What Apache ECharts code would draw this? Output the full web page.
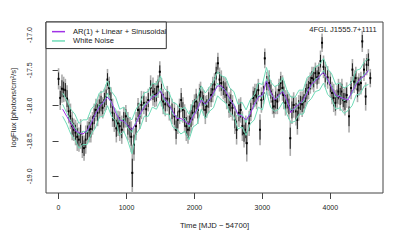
<!DOCTYPE html>
<html><head><meta charset="utf-8">
<script src="https://cdn.jsdelivr.net/npm/echarts@6/dist/echarts.min.js"></script>
<style>html,body{margin:0;padding:0;background:#fff}#c{width:407px;height:251px}</style>
</head><body><div id="c"></div>
<script>
// Observed light curve (days since MJD 54700, log flux)
const obsTime = [
0,25,50,75,100,125,150,175,200,225,
250,275,300,325,350,375,400,425,450,475,
500,525,550,575,600,625,650,675,700,720,
745,770,795,820,850,875,900,930,960,990,
1020,1050,1070,1085,1110,1140,1170,1195,1220,1255,
1290,1320,1355,1390,1415,1440,1465,1490,1515,1540,
1570,1600,1630,1670,1705,1730,1755,1780,1805,1830,
1855,1880,1905,1930,1950,1975,2000,2025,2050,2075,
2090,2115,2135,2160,2180,2210,2245,2270,2295,2320,
2345,2370,2395,2425,2450,2475,2510,2535,2560,2595,
2620,2655,2680,2705,2730,2755,2770,2805,2830,2865,
2890,2915,2940,2965,2985,3015,3035,3065,3100,3125,
3150,3170,3195,3220,3245,3270,3295,3315,3340,3365,
3390,3410,3435,3460,3495,3515,3535,3560,3585,3610,
3635,3655,3680,3705,3730,3755,3780,3805,3830,3855,
3878,3900,3925,3960,4000,4025,4050,4075,4100,4120,
4145,4170,4190,4215,4240,4275,4305,4325,4350,4375,
4400,4420,4450,4470,4495,4520,4535,4560,4588];
const obsFlux = [
-17.62,-17.89,-17.76,-17.77,-17.78,-17.90,-18.08,-18.15,-18.29,-18.34,
-18.38,-18.44,-18.48,-18.40,-18.55,-18.60,-18.48,-18.38,-18.34,-18.33,
-18.25,-18.15,-18.06,-18.10,-18.01,-17.97,-18.03,-17.92,-17.88,-17.63,
-17.75,-17.92,-18.10,-18.20,-18.32,-18.25,-18.29,-18.34,-18.20,-18.15,
-18.29,-18.34,-18.44,-18.95,-18.55,-18.29,-18.06,-18.15,-17.99,-17.96,
-18.05,-17.92,-17.75,-17.80,-17.85,-17.83,-17.73,-17.52,-17.81,-17.94,
-17.98,-17.90,-18.01,-18.08,-18.15,-18.34,-18.20,-18.08,-17.92,-18.06,
-18.18,-18.29,-18.34,-18.25,-18.18,-18.10,-18.01,-17.94,-18.06,-17.85,
-17.81,-17.90,-17.96,-18.06,-18.01,-17.92,-17.85,-17.77,-17.70,-17.54,
-17.40,-17.63,-17.68,-17.75,-17.78,-17.85,-17.99,-17.96,-18.03,-18.20,
-18.34,-18.10,-18.06,-18.29,-18.39,-18.34,-18.53,-18.25,-18.06,-17.89,
-17.85,-17.87,-17.78,-18.34,-17.92,-17.82,-17.33,-17.68,-17.68,-17.80,
-17.94,-18.01,-17.92,-17.94,-17.78,-17.68,-17.75,-17.85,-17.96,-17.94,
-18.01,-18.46,-18.06,-17.99,-18.08,-18.20,-18.03,-17.96,-17.98,-17.94,
-17.85,-17.80,-17.75,-17.68,-17.61,-17.63,-17.54,-17.60,-17.54,-17.37,
-17.11,-17.45,-17.56,-17.60,-17.70,-17.82,-17.89,-17.96,-17.87,-17.80,
-17.87,-17.80,-17.92,-17.94,-17.85,-18.15,-17.75,-17.49,-17.66,-17.61,
-17.77,-17.70,-17.68,-17.09,-17.49,-17.87,-17.42,-17.35,-17.61];
// statistical error (black bars), in 0.01 dex
const errStat = [
9,10,12,11,10,12,10,11,12,10,
11,12,10,13,12,11,12,10,11,12,
10,11,10,12,10,11,9,10,11,9,
10,11,12,10,12,11,13,12,11,10,
12,11,13,20,14,12,10,11,12,10,
11,10,11,12,10,11,10,9,12,11,
10,11,12,11,12,13,12,11,10,11,
12,13,12,11,12,11,10,11,12,10,
9,10,11,12,10,11,10,11,10,9,
9,10,11,10,11,12,11,12,11,12,
13,12,11,13,12,12,16,11,10,10,
10,11,10,14,11,10,9,10,11,10,
11,10,12,11,10,10,11,12,11,10,
11,15,12,11,12,13,11,10,11,10,
10,11,10,9,10,11,9,10,9,9,
8,10,11,10,11,10,12,11,10,11,
12,11,10,12,11,14,10,9,10,10,
11,10,10,9,10,12,9,9,8];
// total error (grey bars), in 0.01 dex
const errTot = [
15,17,20,18,16,19,17,18,20,16,
18,20,17,21,19,18,20,16,18,19,
16,18,16,19,17,18,15,16,18,15,
16,18,20,17,20,18,21,20,18,16,
20,18,22,40,23,20,17,18,20,16,
18,16,18,20,17,18,16,15,20,18,
17,18,20,18,20,21,20,18,17,18,
20,21,20,18,20,18,17,18,20,16,
15,16,18,20,16,18,17,18,16,15,
15,17,18,16,18,20,18,20,18,20,
21,20,18,21,20,20,26,18,16,16,
16,18,16,22,18,16,14,16,18,16,
18,16,20,18,16,16,18,20,18,16,
18,25,20,18,20,21,18,16,18,16,
16,18,16,15,16,18,15,16,15,15,
13,16,18,16,18,16,20,18,16,18,
20,18,16,20,18,23,16,15,16,16,
18,16,16,15,16,20,15,15,13];
// model curves
const modelTime = [
60,120,180,240,300,360,420,480,540,600,
660,720,780,840,900,960,1020,1080,1140,1200,
1260,1320,1380,1440,1500,1560,1620,1680,1740,1800,
1860,1920,1980,2040,2100,2160,2220,2280,2340,2400,
2460,2520,2580,2640,2700,2760,2820,2880,2940,3000,
3060,3120,3180,3240,3300,3360,3420,3480,3540,3600,
3660,3720,3780,3840,3900,3960,4020,4080,4140,4200,
4260,4320,4380,4440,4500,4560];
const arModel = [
-18.05,-18.15,-18.25,-18.35,-18.38,-18.40,-18.35,-18.25,-18.12,-18.02,
-17.95,-17.88,-17.95,-18.10,-18.20,-18.22,-18.28,-18.34,-18.25,-18.12,
-18.02,-17.95,-17.88,-17.85,-17.79,-17.90,-17.98,-18.08,-18.18,-18.18,
-18.22,-18.27,-18.15,-18.05,-17.92,-17.98,-17.92,-17.82,-17.72,-17.72,
-17.80,-17.90,-18.00,-18.12,-18.15,-18.20,-18.12,-17.98,-17.88,-17.85,
-17.65,-17.80,-17.92,-17.85,-17.80,-17.92,-18.10,-18.02,-17.98,-17.92,
-17.82,-17.70,-17.65,-17.58,-17.53,-17.62,-17.75,-17.85,-17.88,-17.90,
-17.92,-17.80,-17.70,-17.62,-17.58,-17.50];
const wnMid = [
-17.98,-18.10,-18.22,-18.30,-18.42,-18.36,-18.38,-18.22,-18.15,-17.98,
-17.97,-17.82,-17.98,-18.05,-18.24,-18.18,-18.32,-18.38,-18.22,-18.15,
-17.98,-17.97,-17.84,-17.88,-17.75,-17.94,-17.95,-18.12,-18.15,-18.22,
-18.18,-18.30,-18.12,-18.08,-17.88,-18.00,-17.90,-17.85,-17.68,-17.75,
-17.78,-17.93,-17.97,-18.15,-18.12,-18.24,-18.08,-18.02,-17.85,-17.88,
-17.62,-17.84,-17.90,-17.88,-17.77,-17.95,-18.06,-18.05,-17.95,-17.95,
-17.78,-17.73,-17.62,-17.60,-17.50,-17.66,-17.72,-17.88,-17.85,-17.93,
-17.89,-17.83,-17.67,-17.65,-17.55,-17.52];
const wnUpper = [
-17.82,-17.92,-18.05,-18.12,-18.25,-18.20,-18.20,-18.05,-17.98,-17.82,
-17.80,-17.65,-17.80,-17.88,-18.05,-18.02,-18.15,-18.20,-18.05,-17.96,
-17.82,-17.80,-17.68,-17.70,-17.58,-17.76,-17.80,-17.95,-17.98,-18.05,
-18.02,-18.12,-17.95,-17.90,-17.72,-17.82,-17.74,-17.66,-17.52,-17.58,
-17.60,-17.75,-17.80,-17.98,-17.95,-18.06,-17.92,-17.85,-17.68,-17.70,
-17.46,-17.66,-17.73,-17.70,-17.60,-17.78,-17.88,-17.88,-17.78,-17.78,
-17.60,-17.56,-17.45,-17.42,-17.33,-17.48,-17.55,-17.70,-17.68,-17.75,
-17.72,-17.66,-17.50,-17.48,-17.38,-17.33];
const wnLower = [
-18.15,-18.26,-18.40,-18.48,-18.60,-18.55,-18.55,-18.40,-18.32,-18.16,
-18.15,-18.00,-18.15,-18.22,-18.42,-18.36,-18.50,-18.68,-18.40,-18.32,
-18.15,-18.15,-18.02,-18.05,-17.93,-18.12,-18.12,-18.30,-18.33,-18.40,
-18.36,-18.48,-18.30,-18.26,-18.05,-18.18,-18.08,-18.03,-17.86,-17.92,
-17.96,-18.10,-18.15,-18.33,-18.30,-18.42,-18.26,-18.20,-18.02,-18.06,
-17.80,-18.02,-18.08,-18.05,-17.95,-18.12,-18.24,-18.22,-18.12,-18.12,
-17.96,-17.90,-17.80,-17.78,-17.68,-17.84,-17.90,-18.05,-18.03,-18.11,
-18.07,-18.00,-17.85,-17.83,-17.72,-17.70];
const xTicks = [0,1000,2000,3000,4000];
const yTicks = [-19.0,-18.5,-18.0,-17.5,-17.0];
const sourceName = '4FGL J1555.7+1111';

const FONT = 'Liberation Sans, Arial, sans-serif';
const PURPLE = '#A032E6';
const CYAN = '#6FDCB8';
const obs = obsTime.map((t,i)=>[t, obsFlux[i], errStat[i]/100, errTot[i]/100]);
const pairs = (arr)=>modelTime.map((t,i)=>[t, arr[i]]);

const chart = echarts.init(document.getElementById('c'), null, {renderer:'svg'});
chart.setOption({
  animation:false,
  backgroundColor:'#fff',
  textStyle:{fontFamily:FONT},
  grid:{left:46, top:22, right:24, bottom:58, show:true, borderColor:'#444', borderWidth:1, backgroundColor:'transparent'},
  xAxis:{type:'value', min:-185, max:4775,
    name:'Time [MJD \u2212 54700]', nameLocation:'middle', nameGap:28,
    nameTextStyle:{fontSize:7.7, color:'#222', fontFamily:FONT},
    axisLine:{show:false},
    axisTick:{show:true, length:6, customValues:xTicks, lineStyle:{color:'#444'}},
    axisLabel:{customValues:xTicks, fontSize:7, color:'#222', margin:11, fontFamily:FONT,
      formatter:(v)=>String(v)},
    splitLine:{show:false}},
  yAxis:{type:'value', min:-19.235, max:-16.816,
    name:'logFlux [photons/cm\u00B2/s]', nameLocation:'middle', nameGap:29, nameRotate:90,
    nameTextStyle:{fontSize:7.7, color:'#222', fontFamily:FONT},
    axisLine:{show:false},
    axisTick:{show:true, length:6, customValues:yTicks, lineStyle:{color:'#444'}},
    axisLabel:{customValues:yTicks, rotate:90, fontSize:7, color:'#222', margin:13, fontFamily:FONT,
      formatter:(v)=>v.toFixed(1)},
    splitLine:{show:false}},
  legend:{left:46, top:22, orient:'vertical', backgroundColor:'#fff',
    borderColor:'#333', borderWidth:1, borderRadius:0, padding:[5,0,3,6], itemGap:0,
    itemWidth:13, itemHeight:1.5,
    textStyle:{fontSize:7.6, color:'#222', lineHeight:9.3, padding:[0,0,0,3], fontFamily:FONT},
    data:[{name:'AR(1) + Linear + Sinusoidal', icon:'rect'},{name:'White Noise', icon:'rect'}]},
  graphic:[{type:'text', right:30, top:25, style:{text:sourceName, fontSize:7.6, fill:'#222', fontFamily:FONT}}],
  series:[
    {type:'custom', name:'obs', clip:true, data:obs, z:2,
      renderItem:(params, api)=>{
        const x=api.value(0), y=api.value(1), es=api.value(2), et=api.value(3);
        const c=api.coord([x,y]);
        const gt=api.coord([x,y+et]), gb=api.coord([x,y-et]);
        const bt=api.coord([x,y+es]), bb=api.coord([x,y-es]);
        return {type:'group', children:[
          {type:'line', shape:{x1:c[0],y1:gt[1],x2:c[0],y2:gb[1]}, style:{stroke:'#ababab', lineWidth:1.6}},
          {type:'line', shape:{x1:c[0],y1:bt[1],x2:c[0],y2:bb[1]}, style:{stroke:'#111', lineWidth:0.9}},
          {type:'rect', shape:{x:c[0]-1,y:c[1]-1,width:2,height:2}, style:{fill:'#000'}}
        ]};
      }},
    {type:'line', name:'White Noise', data:pairs(wnUpper), showSymbol:false, z:3, lineStyle:{color:CYAN, width:1}, itemStyle:{color:CYAN}},
    {type:'line', name:'White Noise', data:pairs(wnMid), showSymbol:false, z:3, lineStyle:{color:CYAN, width:1}, itemStyle:{color:CYAN}},
    {type:'line', name:'White Noise', data:pairs(wnLower), showSymbol:false, z:3, lineStyle:{color:CYAN, width:1}, itemStyle:{color:CYAN}},
    {type:'line', name:'AR(1) + Linear + Sinusoidal', data:pairs(arModel), showSymbol:false, z:4, lineStyle:{color:PURPLE, width:1}, itemStyle:{color:PURPLE}}
  ]
});
</script></body></html>
